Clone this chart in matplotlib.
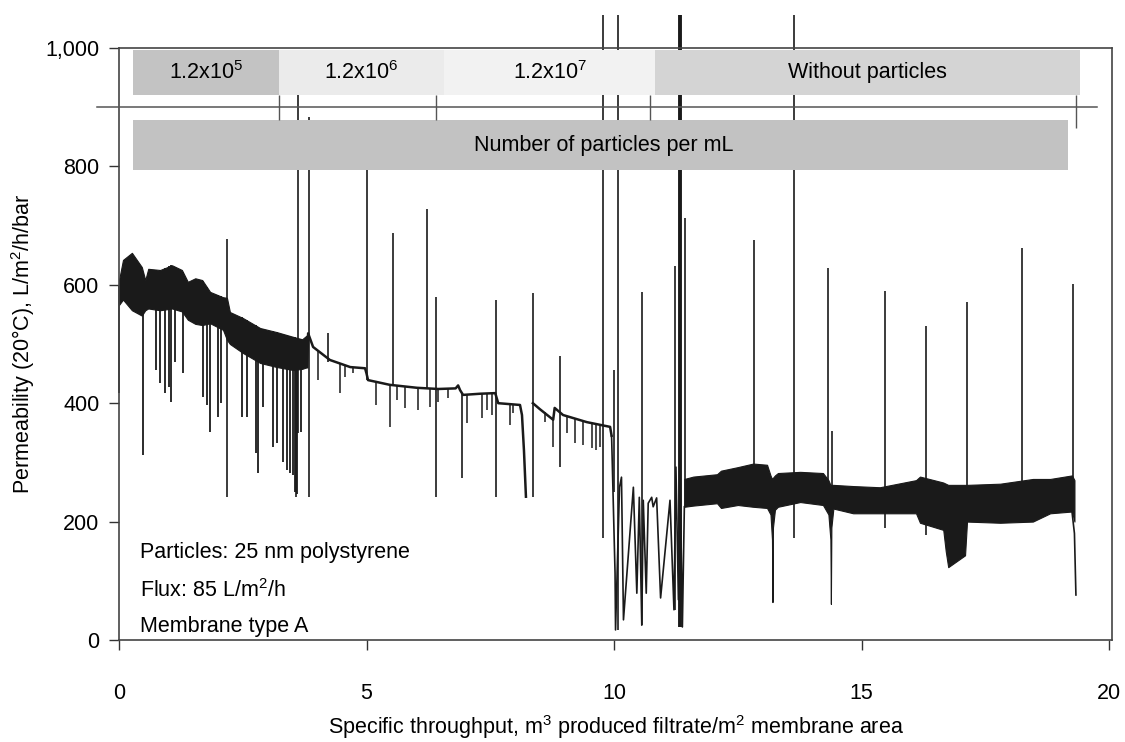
"""Permeability vs specific throughput, membrane type A with 25 nm polystyrene particles."""

import matplotlib
import numpy as np

matplotlib.use("Agg")
import matplotlib.pyplot as plt  # noqa: E402
from matplotlib.patches import Rectangle  # noqa: E402

plt.rcParams["font.family"] = ["Liberation Sans", "DejaVu Sans"]
plt.rcParams["mathtext.fontset"] = "custom"
plt.rcParams["mathtext.rm"] = "Liberation Sans"
plt.rcParams["mathtext.it"] = "Liberation Sans:italic"

TRACE = "#1a1a1a"

# --- dense oscillating band at the start (envelopes)
band_a_x = [0.0, 0.08, 0.26, 0.46, 0.53, 0.59, 0.83, 1.07, 1.27, 1.39, 1.54, 1.68,
            1.84, 2.1, 2.18, 2.24, 2.5, 2.85, 3.19, 3.52, 3.7, 3.8]
band_a_hi = [608, 642, 654, 630, 608, 627, 625, 633, 625, 605, 611, 608,
             588, 579, 578, 554, 544, 527, 520, 512, 508, 515]
band_a_lo = [566, 575, 557, 548, 557, 560, 557, 560, 555, 541, 534, 532,
             535, 524, 507, 500, 485, 468, 461, 456, 458, 461]

# downward dips out of the first band
dip_a_x = [0.49, 0.74, 0.83, 0.93, 1.01, 1.06, 1.13, 1.29, 1.69, 1.77, 1.84, 2.0, 2.06,
           2.48, 2.58, 2.76, 2.8, 2.9, 3.12, 3.2, 3.32, 3.39, 3.45, 3.51, 3.55, 3.6, 3.68]
dip_a_y = [313, 456, 434, 417, 428, 402, 470, 451, 410, 397, 351, 377, 400,
           377, 377, 316, 282, 394, 326, 333, 301, 287, 282, 279, 250, 246, 352]

# single trace after the first band
line_b_x = [3.80, 3.82, 3.92, 4.26, 4.67, 4.97, 5.0, 5.03, 5.47, 6.02, 6.45, 6.8, 6.85,
            6.89, 6.95, 7.3, 7.6, 7.66, 8.1, 8.14, 8.18, 8.22, np.nan,
            8.36, 8.5, 8.77, 8.8, 8.97, 9.45, 9.92, 9.95]
line_b_y = [461, 518, 495, 473, 461, 459, 450, 439, 431, 426, 424, 425, 430,
            422, 414, 416, 417, 400, 397, 380, 320, 242, np.nan,
            400, 390, 372, 392, 380, 368, 360, 345]

# small dips on that trace: position, bottom, top
dip_b_x = [4.02, 4.46, 4.57, 4.73, 5.2, 5.47, 5.62, 5.78, 6.04, 6.28, 6.45, 6.65, 7.03,
           7.33, 7.43, 7.53, 7.9, 7.96, 8.6, 8.77, 9.05, 9.21, 9.37, 9.55, 9.64, 9.72]
dip_b_lo = [439, 417, 444, 451, 397, 360, 405, 392, 389, 394, 402, 408, 367,
            375, 389, 380, 363, 383, 368, 326, 350, 333, 329, 324, 321, 326]
dip_b_hi = [488, 467, 463, 461, 437, 431, 430, 428, 426, 425, 424, 424, 414,
            416, 417, 417, 398, 398, 385, 372, 378, 375, 370, 366, 364, 363]

# unstable zig-zag section around 10-11.4
zig_x = [9.95, 10.02, 10.03, 10.11, 10.15, 10.19, 10.39, 10.46, 10.51, 10.56, 10.59, 10.65,
         10.69, 10.76, 10.79, 10.86, 10.94, 11.13, 11.21, 11.25, 11.30, 11.33, 11.38, 11.42]
zig_y = [345, 113, 17, 258, 275, 34, 258, 79, 241, 25, 236, 79,
         231, 241, 225, 240, 71, 236, 51, 292, 68, 300, 22, 225]

# dense band without particles
band_c_x = [11.42, 11.6, 12.08, 12.16, 12.5, 12.81, 13.09, 13.16, 13.19, 13.2, 13.21, 13.25,
            13.31, 13.76, 14.22, 14.33, 14.37, 14.38, 14.39, 14.43, 14.83, 15.37, 16.1,
            16.18, 16.65, 16.7, 16.75, 17.09, 17.13, 17.8, 18.46, 18.81, 19.25, 19.3]
band_c_lo = [225, 227, 231, 223, 228, 225, 223, 212, 170, 64, 190, 220,
             225, 233, 228, 212, 170, 61, 190, 222, 214, 214, 214,
             198, 186, 150, 123, 143, 200, 198, 200, 214, 217, 200]
band_c_hi = [272, 276, 280, 286, 292, 298, 296, 278, 272, 272, 274, 278,
             282, 284, 282, 270, 262, 262, 262, 262, 260, 258, 270,
             276, 266, 264, 262, 262, 262, 264, 272, 272, 278, 270]

end_x = [19.25, 19.3, 19.33]
end_y = [217, 180, 76]

# tall single spikes: position, bottom, top
spike_x = [0.0, 2.19, 3.58, 3.62, 3.84, 4.23, 5.0, 5.54, 6.22, 6.4, 6.93, 7.62, 8.36, 8.9,
           9.78, 10.0, 10.08, 10.57, 11.23, 11.43, 12.83, 13.64, 14.32, 14.4,
           15.47, 16.3, 17.13, 18.24, 19.27]
spike_lo = [417, 242, 242, 349, 242, 470, 440, 431, 426, 242, 273, 242, 242, 292,
            172, 250, 17, 25, 51, 225, 225, 172, 228, 225,
            189, 177, 200, 200, 217]
spike_hi = [600, 678, 500, 920, 883, 518, 795, 688, 728, 580, 415, 574, 586, 480,
            1055, 456, 1055, 588, 632, 712, 676, 1055, 628, 353,
            590, 530, 571, 662, 601]

# thick burst at 11.33
burst_x = 11.33
burst_lo, burst_hi = 22, 1055

# particle-concentration boxes
conc_edges = [0.28, 3.23, 6.57, 10.83, 19.41]
conc_labels = ["1.2x10$^5$", "1.2x10$^6$", "1.2x10$^7$", "Without particles"]
conc_colors = ["#c3c3c3", "#ebebeb", "#f2f2f2", "#d4d4d4"]
marker_x = [3.23, 6.4, 10.73, 19.33]

notes = ["Particles: 25 nm polystyrene", "Flux: 85 L/m$^2$/h", "Membrane type A"]
note_y = [147, 84, 22]

FS = 15.5

fig = plt.figure(figsize=(11.25, 7.42), dpi=100)
ax = fig.add_axes([0.1058, 0.1375, 0.8827, 0.7978])
ax.set_xlim(0, 20.06)
ax.set_ylim(0, 1000)

ax.fill_between(band_a_x, band_a_lo, band_a_hi, color=TRACE, lw=0.8, zorder=2)
ax.fill_between(band_c_x, band_c_lo, band_c_hi, color=TRACE, lw=0.8, zorder=2)
top_a = np.interp(dip_a_x, band_a_x, band_a_hi)
ax.vlines(dip_a_x, dip_a_y, top_a, color=TRACE, lw=1.3, zorder=2)
ax.plot(line_b_x, line_b_y, color=TRACE, lw=1.8, zorder=2)
ax.vlines(dip_b_x, dip_b_lo, dip_b_hi, color=TRACE, lw=1.1, zorder=2)
ax.plot(zig_x, zig_y, color=TRACE, lw=1.2, zorder=2)
ax.plot(end_x, end_y, color=TRACE, lw=1.2, zorder=2)
ax.vlines(spike_x, spike_lo, spike_hi, color=TRACE, lw=1.2, zorder=2, clip_on=False)
ax.vlines([burst_x], [burst_lo], [burst_hi], color=TRACE, lw=2.8, zorder=2, clip_on=False)

# header boxes
for i, lab in enumerate(conc_labels):
    x0, x1 = conc_edges[i], conc_edges[i + 1]
    ax.add_patch(Rectangle((x0, 921), x1 - x0, 76, facecolor=conc_colors[i],
                           edgecolor="none", zorder=4))
    ax.text((x0 + x1) / 2, 958, lab, ha="center", va="center", fontsize=FS, zorder=6)
ax.add_patch(Rectangle((0.28, 794), 18.89, 84, facecolor="#c2c2c2", edgecolor="none", zorder=4))
ax.text(9.8, 836, "Number of particles per mL", ha="center", va="center", fontsize=FS, zorder=6)
ax.plot([-0.44, 19.76], [900, 900], color="#555555", lw=1.1, zorder=5, clip_on=False)
ax.vlines(marker_x[:3], 878, 921, color="#555555", lw=1.0, zorder=5)
ax.vlines(marker_x[3:], 865, 921, color="#555555", lw=1.0, zorder=5)

for t, y in zip(notes, note_y):
    ax.text(0.42, y, t, ha="left", va="center", fontsize=FS)

ax.set_xticks([0, 5, 10, 15, 20])
ax.set_yticks(range(0, 1001, 200))
ax.set_yticklabels([f"{v:,}" for v in range(0, 1001, 200)])
ax.tick_params(direction="out", length=7, width=1.0, colors="#333333", labelcolor="black",
               labelsize=FS)
ax.tick_params(axis="x", pad=24)
ax.tick_params(axis="y", pad=7)
for s in ax.spines.values():
    s.set_color("#444444")
    s.set_linewidth(1.2)

ax.set_xlabel("Specific throughput, m$^3$ produced filtrate/m$^2$ membrane area", fontsize=FS)
ax.set_ylabel("Permeability (20°C), L/m$^2$/h/bar", fontsize=FS)
ax.xaxis.set_label_coords(0.5, -0.124)
ax.yaxis.set_label_coords(-0.083, 0.5)

fig.savefig("out.png", dpi=100, facecolor="white")
